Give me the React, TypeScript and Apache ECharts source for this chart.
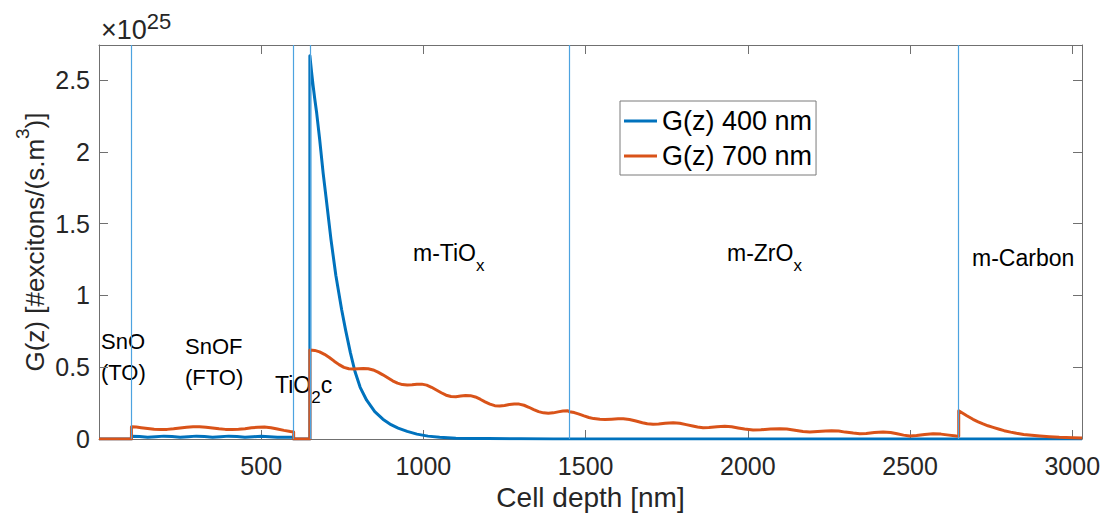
import React, { useEffect, useRef } from 'react';
import * as echarts from 'echarts';

// depth [nm] and generation rate [x1e25 excitons/(s.m^3)]
const blueDepth = [
  0, 100, 100, 125, 150, 175, 200, 225, 250, 275, 300, 325, 350, 375, 400, 425, 450, 475, 500, 525, 550, 575, 600,
  600, 650, 650, 655, 660, 665, 671, 680, 691, 700, 715, 730, 748, 760, 775, 789, 805, 825, 850, 875, 900, 922, 950,
  980, 1014, 1050, 1100, 1150, 1200, 1300, 1400, 1450, 3030,
];
const blueG = [
  0, 0, 0.02, 0.017, 0.013, 0.016, 0.02, 0.017, 0.013, 0.016, 0.02, 0.017, 0.013, 0.016, 0.02, 0.017, 0.013, 0.016,
  0.019, 0.016, 0.012, 0.013, 0.012, 0, 0, 2.67, 2.56, 2.46, 2.37, 2.27, 2.09, 1.85, 1.68, 1.39, 1.14, 0.9, 0.76,
  0.6, 0.47, 0.36, 0.27, 0.19, 0.138, 0.1, 0.076, 0.053, 0.034, 0.02, 0.012, 0.006, 0.004, 0.003, 0.001, 0.0005, 0, 0,
];

const redDepth = [
  0, 100, 100, 115, 130, 150, 170, 190, 210, 230, 250, 270, 290, 310, 330, 350, 370, 390, 410, 430, 450, 470, 490,
  510, 530, 550, 570, 590, 600, 600, 650, 650, 665, 680, 695, 710, 725, 740, 755, 770, 785, 800, 815, 830, 845, 860,
  875, 890, 905, 920, 935, 950, 965, 980, 995, 1010, 1025, 1040, 1055, 1070, 1085, 1100, 1115, 1130, 1145, 1160,
  1175, 1190, 1205, 1220, 1235, 1250, 1265, 1280, 1295, 1310, 1325, 1340, 1355, 1370, 1385, 1400, 1415, 1430, 1445,
  1450, 1465, 1480, 1495, 1510, 1525, 1544, 1560, 1580, 1600, 1616, 1635, 1655, 1675, 1690, 1708, 1725, 1745, 1770,
  1790, 1810, 1830, 1845, 1862, 1880, 1905, 1929, 1950, 1970, 1990, 2016, 2040, 2070, 2099, 2120, 2145, 2170, 2191,
  2215, 2240, 2258, 2280, 2300, 2325, 2345, 2365, 2390, 2417, 2440, 2460, 2480, 2499, 2520, 2545, 2571, 2595, 2620,
  2643, 2650, 2650, 2660, 2675, 2694, 2710, 2725, 2740, 2756, 2775, 2790, 2810, 2828, 2850, 2875, 2900, 2930, 2960,
  3002, 3030,
];
const redG = [
  0, 0, 0.085, 0.083, 0.079, 0.073, 0.068, 0.066, 0.067, 0.071, 0.077, 0.082, 0.085, 0.085, 0.082, 0.077, 0.071,
  0.067, 0.066, 0.068, 0.072, 0.078, 0.082, 0.083, 0.078, 0.07, 0.06, 0.052, 0.049, 0, 0, 0.62, 0.617, 0.607, 0.59,
  0.568, 0.542, 0.518, 0.499, 0.489, 0.487, 0.489, 0.491, 0.489, 0.481, 0.466, 0.447, 0.426, 0.405, 0.389, 0.379,
  0.376, 0.378, 0.382, 0.382, 0.375, 0.36, 0.341, 0.322, 0.305, 0.296, 0.295, 0.299, 0.303, 0.302, 0.293, 0.277,
  0.259, 0.243, 0.232, 0.23, 0.234, 0.24, 0.244, 0.243, 0.235, 0.221, 0.205, 0.191, 0.182, 0.179, 0.182, 0.189,
  0.195, 0.197, 0.19, 0.184, 0.173, 0.161, 0.15, 0.142, 0.137, 0.136, 0.138, 0.141, 0.141, 0.136, 0.125, 0.113,
  0.106, 0.102, 0.104, 0.109, 0.114, 0.11, 0.1, 0.09, 0.083, 0.079, 0.08, 0.085, 0.088, 0.085, 0.077, 0.069, 0.063,
  0.064, 0.069, 0.072, 0.069, 0.061, 0.053, 0.049, 0.052, 0.056, 0.058, 0.055, 0.048, 0.041, 0.037, 0.039, 0.045,
  0.049, 0.045, 0.036, 0.027, 0.021, 0.024, 0.032, 0.037, 0.034, 0.027, 0.021, 0.02, 0.197, 0.183, 0.162, 0.137,
  0.12, 0.105, 0.092, 0.081, 0.068, 0.058, 0.048, 0.04, 0.032, 0.026, 0.021, 0.016, 0.012, 0.009, 0.007,
];

const layerBounds = [100, 600, 650, 1450, 2650];
const seriesNames = ['G(z) 400 nm', 'G(z) 700 nm'];

const FONT = 'Liberation Sans, Arial, Helvetica, sans-serif';
const AXIS_COLOR = '#707070';
const TEXT_COLOR = '#262626';

const zip = (xs: number[], ys: number[]) => xs.map((x, i) => [x, ys[i]]);

const richSub = { fontSize: 17, lineHeight: 17, verticalAlign: 'bottom', fontFamily: FONT, fill: '#000' };
const richMain = { fontSize: 23, lineHeight: 41, fontFamily: FONT, fill: '#000' };

const layerText = (text: string, x: number, y: number) => ({
  type: 'text',
  x,
  y,
  silent: true,
  style: {
    text,
    fill: '#000',
    fontSize: 22,
    fontFamily: FONT,
    lineHeight: 31,
    align: 'left',
    verticalAlign: 'middle',
    rich: { n: richMain, s: richSub },
  },
});

const App: React.FC = () => {
  const chartRef = useRef<HTMLDivElement>(null);

  useEffect(() => {
    const chart = echarts.init(chartRef.current!, null, { renderer: 'svg' });

    const axisCommon = {
      type: 'value',
      axisLine: { show: true, onZero: false, lineStyle: { color: AXIS_COLOR, width: 1 } },
      axisTick: { show: true, inside: true, length: 9, lineStyle: { color: AXIS_COLOR, width: 1 } },
      splitLine: { show: false },
    };

    const option = {
      animation: false,
      backgroundColor: '#fff',
      grid: { left: 99, right: 29, top: 45, bottom: 87, containLabel: false, outerBoundsMode: 'none' },
      legend: {
        data: seriesNames,
        orient: 'vertical',
        left: 620,
        top: 101,
        icon: 'rect',
        itemWidth: 33,
        itemHeight: 3,
        itemGap: 7,
        padding: [6, 4, 5, 4],
        borderColor: '#7a7a7a',
        borderWidth: 1,
        backgroundColor: '#fff',
        selectedMode: false,
        textStyle: { fontSize: 27, lineHeight: 28, color: '#000', fontFamily: FONT },
      },
      xAxis: [
        {
          ...axisCommon,
          min: 0,
          max: 3030,
          interval: 500,
          position: 'bottom',
          name: 'Cell depth [nm]',
          nameLocation: 'middle',
          nameGap: 44,
          nameMoveOverlap: false,
          nameTextStyle: { fontSize: 28, color: TEXT_COLOR, fontFamily: FONT },
          axisLabel: {
            margin: 14,
            fontSize: 25,
            color: TEXT_COLOR,
            fontFamily: FONT,
            formatter: (v: number) => (v > 0 && v % 500 === 0 ? String(v) : ''),
          },
        },
        {
          ...axisCommon,
          min: 0,
          max: 3030,
          interval: 500,
          position: 'top',
          axisLabel: { show: false },
        },
      ],
      yAxis: [
        {
          ...axisCommon,
          min: 0,
          max: 2.744,
          interval: 0.5,
          position: 'left',
          axisLabel: {
            margin: 9,
            fontSize: 25,
            color: TEXT_COLOR,
            fontFamily: FONT,
            formatter: (v: number) => {
              const k = v / 0.5;
              return Math.abs(k - Math.round(k)) < 1e-6 ? String(+v.toFixed(1)) : '';
            },
          },
        },
        {
          ...axisCommon,
          min: 0,
          max: 2.744,
          interval: 0.5,
          position: 'right',
          axisLabel: { show: false },
        },
      ],
      graphic: [
        {
          type: 'text',
          x: 101,
          y: 30,
          silent: true,
          style: {
            text: '{n|×10}{p|25}',
            align: 'left',
            verticalAlign: 'middle',
            rich: {
              n: { fontSize: 27, lineHeight: 40, fontFamily: FONT, fill: TEXT_COLOR },
              p: { fontSize: 22, lineHeight: 22, verticalAlign: 'top', fontFamily: FONT, fill: TEXT_COLOR },
            },
          },
        },
        {
          type: 'text',
          x: 35,
          y: 242,
          rotation: Math.PI / 2,
          silent: true,
          style: {
            text: '{n|G(z) [#excitons/(s.m}{p|3}{n|)]}',
            align: 'center',
            verticalAlign: 'middle',
            rich: {
              n: { fontSize: 26, lineHeight: 44, fontFamily: FONT, fill: TEXT_COLOR },
              p: { fontSize: 19, lineHeight: 19, verticalAlign: 'top', fontFamily: FONT, fill: TEXT_COLOR },
            },
          },
        },
        layerText('SnO\n(TO)', 101, 357),
        layerText('SnOF\n(FTO)', 185, 362),
        layerText('{n|TiO}{s|2}{n|c}', 275, 385),
        layerText('{n|m-TiO}{s|x}', 413, 253),
        layerText('{n|m-ZrO}{s|x}', 727, 253),
        layerText('{n|m-Carbon}', 972, 258),
      ],
      series: [
        {
          name: seriesNames[0],
          type: 'line',
          data: zip(blueDepth, blueG),
          showSymbol: false,
          symbol: 'none',
          color: '#0072BD',
          lineStyle: { color: '#0072BD', width: 3, join: 'round' },
          z: 3,
          markLine: {
            silent: true,
            symbol: ['none', 'none'],
            label: { show: false },
            lineStyle: { color: '#4da3e0', width: 1.2, type: 'solid' },
            emphasis: { disabled: true },
            data: layerBounds.map((b) => ({ xAxis: b })),
          },
        },
        {
          name: seriesNames[1],
          type: 'line',
          data: zip(redDepth, redG),
          showSymbol: false,
          symbol: 'none',
          color: '#D95319',
          lineStyle: { color: '#D95319', width: 3, join: 'round' },
          z: 4,
        },
      ],
    };

    chart.setOption(option as any);

    return () => {
      chart.dispose();
    };
  }, []);

  return <div ref={chartRef} style={{ position: 'fixed', left: 0, top: 0, width: 1111, height: 526 }} />;
};

export default App;
